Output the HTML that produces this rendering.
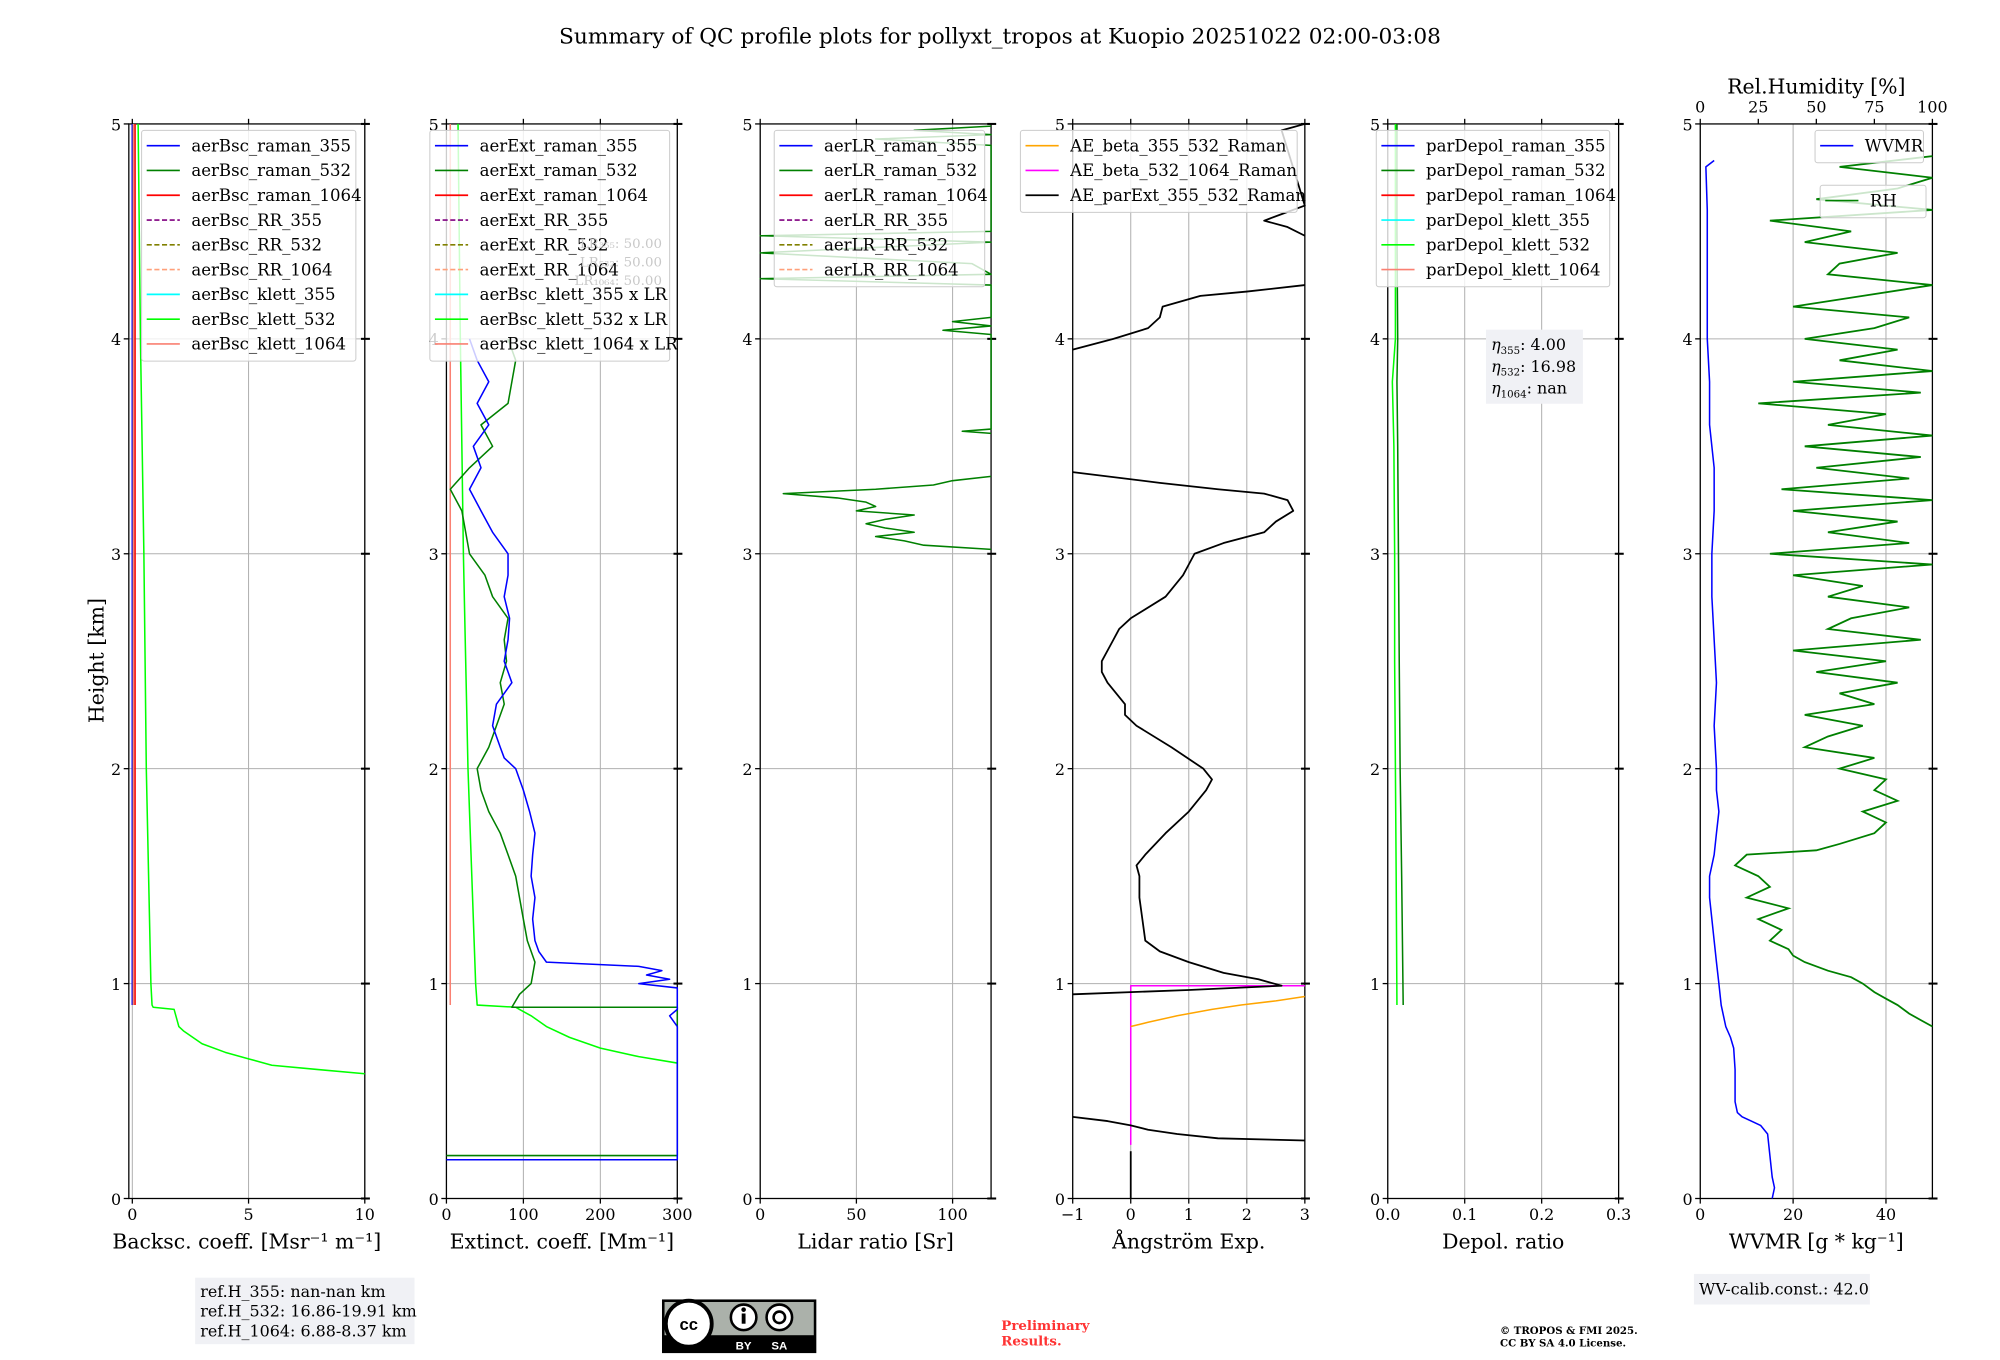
<!DOCTYPE html>
<html><head><meta charset="utf-8">
<style>
html,body{margin:0;padding:0;background:#fff;}
svg{display:block;font-family:"DejaVu Serif","Liberation Serif",serif;}
</style></head>
<body>
<svg id="fig" width="2000" height="1360" viewBox="0 0 1568 1064.4" preserveAspectRatio="none" xmlns="http://www.w3.org/2000/svg">
<rect width="1568" height="1065" fill="#fff"/>
<text x="784" y="34" font-size="17" text-anchor="middle">Summary of QC profile plots for pollyxt_tropos at Kuopio 20251022 02:00-03:08</text>
<g id="plots"></g>
<g id="overlay"></g>
</svg>
<script>
// ---------- data ----------
const heightTicks=[0,1,2,3,4,5];
const bscTicks=[0,5,10], extTicks=[0,100,200,300], lrTicks=[0,50,100], aeTicks=[-1,0,1,2,3], depTicks=[0.0,0.1,0.2,0.3], wvTicks=[0,20,40], rhTicks=[0,25,50,75,100];
const bscTickLabels=['0','5','10'], extTickLabels=['0','100','200','300'], lrTickLabels=['0','50','100'], aeTickLabels=['\u22121','0','1','2','3'], depTickLabels=['0.0','0.1','0.2','0.3'], wvTickLabels=['0','20','40'], rhTickLabels=['0','25','50','75','100'];

// panel 1: backscatter
const bscRamanH=[0.9,5.0];
const bscRaman355=[0.0,0.0];
const bscRaman532=[0.05,0.05];
const bscRaman1064=[0.12,0.12];
const bscKlett532H=[0.58,0.6,0.62,0.65,0.68,0.72,0.78,0.8,0.88,0.89,0.9,1.0,1.5,2.0,3.0,4.0,5.0];
const bscKlett532=[10,8,6,5,4,3,2.2,2,1.8,0.9,0.85,0.8,0.7,0.6,0.5,0.35,0.25];
const bscKlett1064H=[0.9,5.0];
const bscKlett1064=[0.05,0.05];

// panel 2: extinction
const ext355H=[0.18,0.18,0.8,0.85,0.88,0.98,1.0,1.02,1.04,1.06,1.08,1.1,1.15,1.2,1.3,1.4,1.5,1.6,1.7,1.8,1.9,1.95,2.0,2.05,2.1,2.2,2.3,2.4,2.5,2.6,2.7,2.8,2.9,3.0,3.1,3.2,3.3,3.4,3.5,3.6,3.7,3.8,3.9,4.0];
const ext355=[0,300,300,290,300,300,250,290,260,280,250,130,120,115,112,115,110,112,115,108,100,95,90,75,70,60,65,85,75,80,82,75,80,80,60,45,30,45,35,55,40,55,40,30];
const ext532H=[0.2,0.2,0.89,0.89,0.95,1.0,1.1,1.2,1.3,1.4,1.5,1.6,1.7,1.8,1.9,2.0,2.1,2.2,2.3,2.4,2.5,2.6,2.7,2.8,2.9,3.0,3.1,3.2,3.3,3.4,3.5,3.6,3.7,3.8,3.9,4.0];
const ext532=[0,300,300,85,95,110,115,105,100,95,90,80,70,55,45,40,55,65,75,70,78,75,80,60,50,30,25,20,5,30,60,45,80,85,90,80];
const extKlett532H=[0.63,0.66,0.7,0.75,0.8,0.85,0.88,0.89,0.9,1.0,1.5,2.0,3.0,4.0,5.0];
const extKlett532=[300,250,200,160,130,110,95,90,40,38,33,28,22,18,15];
const extKlett1064H=[0.9,5.0];
const extKlett1064=[5,5];

// panel 3: lidar ratio (532)
const lr532H=[3.02,3.04,3.06,3.08,3.1,3.12,3.14,3.16,3.18,3.2,3.22,3.24,3.26,3.28,3.3,3.32,3.34,3.36];
const lr532=[120,85,75,60,80,65,55,65,80,50,60,55,40,12,60,90,100,120];
const lrTopH=[3.56,3.57,3.58,4.02,4.04,4.06,4.08,4.1,4.25,4.28,4.3,4.35,4.4,4.45,4.48,4.5,4.9,4.93,4.95,4.97,4.99];
const lrTop=[120,105,120,120,95,120,100,120,120,0,120,110,0,120,0,120,120,60,120,80,120];

// panel 4: Angstrom exponents
const aeStubH=[0,0.22];
const aeStub=[0,0];
const aeParExtLowH=[0.38,0.36,0.34,0.32,0.3,0.28,0.27];
const aeParExtLow=[-1,-0.4,0,0.3,0.8,1.5,3];
const aeParExtMidH=[0.95,0.97,0.99,1.02,1.05,1.1,1.15,1.2,1.3,1.4,1.5,1.55,1.6,1.7,1.8,1.9,1.95,2.0,2.1,2.2,2.25,2.3,2.4,2.45,2.5,2.6,2.65,2.7,2.8,2.9,2.95,3.0,3.05,3.1,3.15,3.2,3.25,3.28,3.3,3.33,3.38];
const aeParExtMid=[-1,1,2.6,2.2,1.6,1.0,0.5,0.25,0.2,0.15,0.15,0.1,0.25,0.6,1.0,1.3,1.4,1.25,0.7,0.1,-0.1,-0.1,-0.4,-0.5,-0.5,-0.3,-0.2,0.0,0.6,0.9,1.0,1.1,1.6,2.3,2.5,2.8,2.7,2.3,1.5,0.5,-1];
const aeParExtHighH=[3.95,4.0,4.05,4.1,4.15,4.2,4.22,4.25];
const aeParExtHigh=[-1,-0.3,0.3,0.5,0.55,1.2,2.0,3.0];
const aeParExtTopH=[4.48,4.52,4.55,4.58,4.62,4.97,5.0];
const aeParExtTop=[3.0,2.7,2.3,2.6,3.0,2.6,3.0];
const aeBeta532H=[0.25,0.98,0.99,0.99];
const aeBeta532=[0,0,0,3];
const aeBeta355H=[0.8,0.82,0.85,0.88,0.9,0.92,0.94];
const aeBeta355=[0,0.3,0.8,1.4,1.9,2.5,3.0];

// panel 5: depol
const depH=[0.9,1.5,2.0,2.5,3.0,3.5,3.8,4.0,4.5,5.0];
const dep532=[0.02,0.018,0.016,0.015,0.014,0.013,0.012,0.013,0.012,0.012];
const depKlett532=[0.012,0.011,0.01,0.009,0.009,0.008,0.006,0.01,0.01,0.01];

// panel 6: WVMR and RH
const wvH=[0.0,0.05,0.1,0.2,0.3,0.34,0.36,0.38,0.4,0.45,0.5,0.6,0.7,0.75,0.8,0.9,1.0,1.1,1.2,1.3,1.4,1.5,1.6,1.7,1.8,1.9,2.0,2.2,2.4,2.6,2.8,3.0,3.2,3.4,3.6,3.8,4.0,4.2,4.4,4.6,4.8,4.83];
const wvmr=[15.5,16,15.5,15,14.5,13,11,9,8,7.5,7.5,7.5,7.2,6.5,5.5,4.5,4,3.5,3,2.5,2,2,3,3.5,4,3.5,3.5,3,3.5,3,2.5,2.5,3,3,2,2,1.5,1.5,1.5,1.5,1.2,3];
const rhH=[0.8,0.83,0.86,0.9,0.93,0.96,1.0,1.03,1.06,1.1,1.13,1.16,1.2,1.25,1.3,1.35,1.4,1.45,1.5,1.55,1.6,1.62,1.65,1.7,1.75,1.8,1.85,1.9,1.95,2.0,2.05,2.1,2.15,2.2,2.25,2.3,2.35,2.4,2.45,2.5,2.55,2.6,2.65,2.7,2.75,2.8,2.85,2.9,2.95,3.0,3.05,3.1,3.15,3.2,3.25,3.3,3.35,3.4,3.45,3.5,3.55,3.6,3.65,3.7,3.75,3.8,3.85,3.9,3.95,4.0,4.05,4.1,4.15,4.2,4.25,4.3,4.35,4.4,4.45,4.5,4.55,4.6,4.65,4.7,4.75,4.8,4.85];
const rhVals=[100,95,90,85,80,75,70,65,55,45,40,38,30,35,25,38,20,30,25,15,20,50,60,75,80,70,85,75,80,60,75,45,55,70,45,75,60,85,50,80,40,95,55,65,90,55,70,40,100,30,90,55,85,40,100,35,90,50,95,45,100,55,80,25,95,40,100,60,85,45,75,90,40,70,100,55,60,85,45,65,30,100,50,85,100,60,100];

// ---------- helpers ----------
const NS='http://www.w3.org/2000/svg';
const plots=document.getElementById('plots');
const overlay=document.getElementById('overlay');
const Y0=938, Y1=97;
function yS(h){return Y0-(h/5)*(Y0-Y1);}
function mk(tag,attrs,parent){const e=document.createElementNS(NS,tag);for(const k in attrs)e.setAttribute(k,attrs[k]);(parent||plots).appendChild(e);return e;}
function linScale(d0,d1,r0,r1){return v=>r0+(v-d0)/(d1-d0)*(r1-r0);}

const panels=[
 {name:'backscatter',L:101,R:286,d0:-0.15,d1:10,ticks:bscTicks,labels:bscTickLabels,xlabel:'Backsc. coeff. [Msr\u207B\u00B9 m\u207B\u00B9]'},
 {name:'extinction',L:350,R:531,d0:0,d1:300,ticks:extTicks,labels:extTickLabels,xlabel:'Extinct. coeff. [Mm\u207B\u00B9]'},
 {name:'lidar-ratio',L:596,R:777,d0:0,d1:120,ticks:lrTicks,labels:lrTickLabels,xlabel:'Lidar ratio [Sr]'},
 {name:'angstrom',L:841,R:1023,d0:-1,d1:3,ticks:aeTicks,labels:aeTickLabels,xlabel:'\u00C5ngstr\u00F6m Exp.'},
 {name:'depol',L:1088,R:1269,d0:0,d1:0.3,ticks:depTicks,labels:depTickLabels,xlabel:'Depol. ratio'},
 {name:'wvmr',L:1333,R:1515,d0:0,d1:50,ticks:wvTicks,labels:wvTickLabels,xlabel:'WVMR [g * kg\u207B\u00B9]'}
];
panels.forEach(p=>{p.x=linScale(p.d0,p.d1,p.L,p.R);});

function drawAxes(p,idx){
  const g=mk('g',{});
  
  
  p.ticks.forEach((t,i)=>{
    const x=p.x(t);
    mk('line',{x1:x,x2:x,y1:Y1,y2:Y0,stroke:'#b0b0b0','stroke-width':0.8},g);
    mk('line',{x1:x,x2:x,y1:Y0,y2:Y0+4,stroke:'#000','stroke-width':1},g);
    if(p.name!=='wvmr') mk('line',{x1:x,x2:x,y1:Y1,y2:Y1-4,stroke:'#000','stroke-width':1},g);
    const tl=mk('text',{x:x,y:Y0+17,'font-size':12.5,'text-anchor':'middle'},g);
    tl.textContent=p.labels[i];
    
    
  });
  heightTicks.forEach(h=>{
    const y=yS(h);
    if(h>0&&h<5) mk('line',{x1:p.L,x2:p.R,y1:y,y2:y,stroke:'#b0b0b0','stroke-width':0.8},g);
    mk('line',{x1:p.L-4,x2:p.L,y1:y,y2:y,stroke:'#000','stroke-width':1},g);
    mk('line',{x1:p.R-3,x2:p.R+4,y1:y,y2:y,stroke:'#000','stroke-width':1.6},g);
    const tl=mk('text',{x:p.L-6,y:y+5,'font-size':12.5,'text-anchor':'end'},g);
    tl.textContent=String(h);
    
    
  });
  mk('rect',{x:p.L,y:Y1,width:p.R-p.L,height:Y0-Y1,fill:'none',stroke:'#000','stroke-width':1},g);
  const xl=mk('text',{x:(p.L+p.R)/2,y:977,'font-size':16,'text-anchor':'middle'},g);
  xl.textContent=p.xlabel;
  
  
}
panels.forEach(drawAxes);

function series(p,hs,vs,color,name,width,opacity){
  const pts=hs.map((h,i)=>{let x=p.x(vs[i]);x=Math.max(p.L,Math.min(p.R,x));return x.toFixed(1)+','+yS(h).toFixed(1);}).join(' ');
  const el=mk('polyline',{points:pts,fill:'none',stroke:color,'stroke-width':width||1.2,'stroke-opacity':opacity==null?1:opacity,'stroke-linejoin':'round'});
  
  
  return el;
}
const P=panels;
// panel 1
series(P[0],bscRamanH,bscRaman355,'#0000ff','aerbsc-raman-355-line');
series(P[0],bscRamanH,bscRaman532,'#008000','aerbsc-raman-532-line');
series(P[0],bscRamanH,bscRaman1064,'#ff0000','aerbsc-raman-1064-line');
series(P[0],bscKlett1064H,bscKlett1064,'#fa8072','aerbsc-klett-1064-line');
series(P[0],bscKlett532H,bscKlett532,'#00ff00','aerbsc-klett-532-line');
// panel 2
series(P[1],extKlett1064H,extKlett1064,'#fa8072','aerext-klett-1064-line');
series(P[1],extKlett532H,extKlett532,'#00ff00','aerext-klett-532-line');
series(P[1],ext532H,ext532,'#008000','aerext-raman-532-line');
series(P[1],ext355H,ext355,'#0000ff','aerext-raman-355-line');
// panel 3
series(P[2],lr532H,lr532,'#008000','aerlr-raman-532-line');
series(P[2],lrTopH,lrTop,'#008000','aerlr-raman-532-top-line');
// panel 4
series(P[3],aeBeta532H,aeBeta532,'#ff00ff','ae-beta-532-1064-line');
series(P[3],aeBeta355H,aeBeta355,'#ffa500','ae-beta-355-532-line');
series(P[3],aeStubH,aeStub,'#000','ae-parext-stub-line',1.4);
series(P[3],aeParExtLowH,aeParExtLow,'#000','ae-parext-low-line',1.4);
series(P[3],aeParExtMidH,aeParExtMid,'#000','ae-parext-mid-line',1.4);
series(P[3],aeParExtHighH,aeParExtHigh,'#000','ae-parext-high-line',1.4);
series(P[3],aeParExtTopH,aeParExtTop,'#000','ae-parext-top-line',1.4);
// panel 5
series(P[4],depH,depKlett532,'#00ff00','pardepol-klett-532-line');
series(P[4],depH,dep532,'#008000','pardepol-raman-532-line');
// panel 6
const rhScale=linScale(0,100,P[5].L,P[5].R);
(function(){
  const pts=rhH.map((h,i)=>rhScale(rhVals[i]).toFixed(1)+','+yS(h).toFixed(1)).join(' ');
  const el=mk('polyline',{points:pts,fill:'none',stroke:'#008000','stroke-width':1.4});
  
  
  rhTicks.forEach((t,i)=>{
    const x=rhScale(t);
    mk('line',{x1:x,x2:x,y1:Y1,y2:Y1-4,stroke:'#000','stroke-width':1});
    const tl=mk('text',{x:x,y:Y1-9,'font-size':12.5,'text-anchor':'middle'});
    tl.textContent=rhTickLabels[i];
    
    
  });
  const t=mk('text',{x:(P[5].L+P[5].R)/2,y:73,'font-size':16,'text-anchor':'middle'});
  t.textContent='Rel.Humidity [%]';
  
  
})();
series(P[5],wvH,wvmr,'#0000ff','wvmr-line');

// y-axis title
const yt=mk('text',{x:0,y:0,'font-size':16,'text-anchor':'middle',transform:'translate(81,517) rotate(-90)'});
yt.textContent='Height [km]';



// legends
function legend(x,y,w,entries,name){
  const g=mk('g',{},overlay);
  
  
  mk('rect',{x:x,y:y,width:w,height:entries.length*19.4+6,rx:2,fill:'#fff','fill-opacity':0.8,stroke:'#ccc','stroke-width':0.8},g);
  entries.forEach((e,i)=>{
    const yy=y+12+i*19.4;
    mk('line',{x1:x+4,x2:x+30,y1:yy,y2:yy,stroke:e[1],'stroke-width':1.3,'stroke-dasharray':e[2]?'4,2':'none'},g);
    const t=mk('text',{x:x+39,y:yy+4.5,'font-size':13},g);
    t.textContent=e[0];
    
    
  });
}
const C={b:'#0000ff',g:'#008000',r:'#ff0000',p:'#800080',o:'#808000',s:'#ffa07a',c:'#00ffff',l:'#00ff00',f:'#fa8072'};
legend(111,102,168,[['aerBsc_raman_355',C.b],['aerBsc_raman_532',C.g],['aerBsc_raman_1064',C.r],['aerBsc_RR_355',C.p,1],['aerBsc_RR_532',C.o,1],['aerBsc_RR_1064',C.s,1],['aerBsc_klett_355',C.c],['aerBsc_klett_532',C.l],['aerBsc_klett_1064',C.f]],'backscatter-legend');
legend(337,102,188,[['aerExt_raman_355',C.b],['aerExt_raman_532',C.g],['aerExt_raman_1064',C.r],['aerExt_RR_355',C.p,1],['aerExt_RR_532',C.o,1],['aerExt_RR_1064',C.s,1],['aerBsc_klett_355 x LR',C.c],['aerBsc_klett_532 x LR',C.l],['aerBsc_klett_1064 x LR',C.f]],'extinction-legend');
legend(607,102,165,[['aerLR_raman_355',C.b],['aerLR_raman_532',C.g],['aerLR_raman_1064',C.r],['aerLR_RR_355',C.p,1],['aerLR_RR_532',C.o,1],['aerLR_RR_1064',C.s,1]],'lidar-ratio-legend');
legend(800,102,217,[['AE_beta_355_532_Raman','#ffa500'],['AE_beta_532_1064_Raman','#ff00ff'],['AE_parExt_355_532_Raman','#000']],'angstrom-legend');
legend(1079,102,183,[['parDepol_raman_355',C.b],['parDepol_raman_532',C.g],['parDepol_raman_1064',C.r],['parDepol_klett_355',C.c],['parDepol_klett_532',C.l],['parDepol_klett_1064',C.f]],'depol-legend');
legend(1423,102,85,[['WVMR',C.b]],'wvmr-legend');
legend(1427,145,83,[['RH',C.g]],'rh-legend');

// faint LR box in extinction panel
const lrb=mk('g',{},overlay);


['LR\u2083\u2085\u2085: 50.00','LR\u2085\u2083\u2082: 50.00','LR\u2081\u2080\u2086\u2084: 50.00'].forEach((s,i)=>{
  const t=mk('text',{x:519,y:194+i*14.5,'font-size':10.5,'text-anchor':'end',fill:'#c8c8c8'},lrb);t.textContent=s;
});

// eta box
const eb=mk('g',{},overlay);


mk('rect',{x:1165,y:258,width:76,height:58,fill:'#f0f1f5'},eb);
[['\u03B7','355',': 4.00'],['\u03B7','532',': 16.98'],['\u03B7','1064',': nan']].forEach((r,i)=>{
  const t=mk('text',{x:1169,y:274+i*17,'font-size':12.5},eb);
  t.innerHTML='<tspan font-style="italic">'+r[0]+'</tspan><tspan font-size="8" dy="3">'+r[1]+'</tspan><tspan dy="-3">'+r[2]+'</tspan>';
});

// ref box
const rb=mk('g',{},overlay);


mk('rect',{x:153,y:1000,width:172,height:52,fill:'#f0f1f5'},rb);
['ref.H_355: nan-nan km','ref.H_532: 16.86-19.91 km','ref.H_1064: 6.88-8.37 km'].forEach((s,i)=>{
  const t=mk('text',{x:157,y:1015+i*15.5,'font-size':12.5},rb);t.textContent=s;
});
// WV calib
const wb=mk('g',{},overlay);


mk('rect',{x:1328,y:997,width:138,height:24,fill:'#f0f1f5'},wb);
const wt=mk('text',{x:1332,y:1013,'font-size':12.5},wb);wt.textContent='WV-calib.const.: 42.0';

// CC logo
const cc=mk('g',{},overlay);


mk('rect',{x:519,y:1017,width:121,height:42,fill:'#000'},cc);
mk('rect',{x:521,y:1019,width:117,height:26,fill:'#abb1aa'},cc);
mk('circle',{cx:540,cy:1036,r:18,fill:'#fff',stroke:'#000','stroke-width':3},cc);
const cct=mk('text',{x:540,y:1041,'font-size':13,'font-weight':'bold','text-anchor':'middle','font-family':'Liberation Sans, sans-serif'},cc);cct.textContent='cc';
mk('circle',{cx:583,cy:1031,r:10,fill:'#fff',stroke:'#000','stroke-width':2},cc);
mk('circle',{cx:583,cy:1025,r:1.8,fill:'#000'},cc);
mk('rect',{x:581.5,y:1028,width:3,height:8,fill:'#000'},cc);
mk('circle',{cx:611,cy:1031,r:10,fill:'#fff',stroke:'#000','stroke-width':2},cc);
mk('circle',{cx:611,cy:1031,r:4.5,fill:'none',stroke:'#000','stroke-width':2},cc);
const by=mk('text',{x:583,y:1056,'font-size':9,'font-weight':'bold',fill:'#fff','text-anchor':'middle','font-family':'Liberation Sans, sans-serif'},cc);by.textContent='BY';
const sa=mk('text',{x:611,y:1056,'font-size':9,'font-weight':'bold',fill:'#fff','text-anchor':'middle','font-family':'Liberation Sans, sans-serif'},cc);sa.textContent='SA';

const pr=mk('text',{x:785,y:1041,'font-size':10.5,'font-weight':'bold',fill:'#ff3333'},overlay);

pr.innerHTML='<tspan x="785">Preliminary</tspan><tspan x="785" dy="12">Results.</tspan>';
const cp=mk('text',{x:1176,y:1044,'font-size':8,'font-weight':'bold'},overlay);

cp.innerHTML='<tspan x="1176">\u00A9 TROPOS &amp; FMI 2025.</tspan><tspan x="1176" dy="10">CC BY SA 4.0 License.</tspan>';
</script>
</body></html>
